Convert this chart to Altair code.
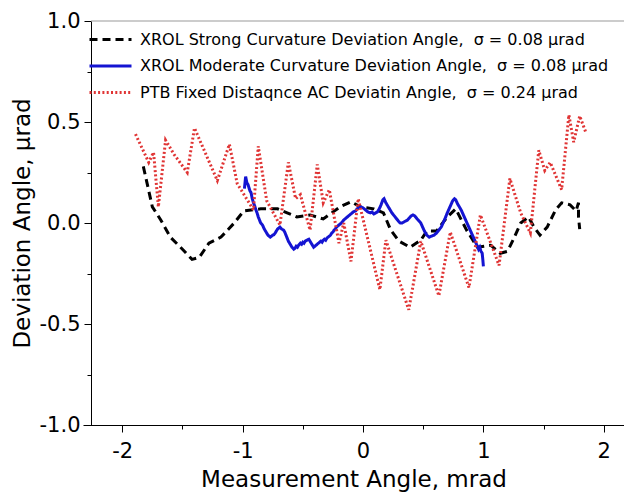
import altair as alt
import pandas as pd

series_names = [
    "XROL Strong Curvature Deviation Angle,\u00a0 σ = 0.08 μrad",
    "XROL Moderate Curvature Deviation Angle,\u00a0 σ = 0.08 μrad",
    "PTB Fixed Distaqnce AC Deviatin Angle,\u00a0 σ = 0.24 μrad",
]
series_colors = ["#000000", "#1414d2", "#e03434"]

strong_x = [-1.825, -1.75, -1.68, -1.60, -1.50, -1.42, -1.36, -1.28, -1.18, -1.07,
            -0.99, -0.85, -0.71, -0.63, -0.55, -0.44, -0.33, -0.19, -0.10, -0.02,
            0.09, 0.17, 0.23, 0.30, 0.39, 0.48, 0.53, 0.61, 0.70, 0.77,
            0.86, 0.95, 1.06, 1.14, 1.20, 1.25, 1.31, 1.375, 1.42, 1.47,
            1.53, 1.60, 1.65, 1.72, 1.77, 1.79, 1.79, 1.80]
strong_y = [0.28, 0.08, 0.015, -0.07, -0.13, -0.18, -0.17, -0.10, -0.07, 0.0,
            0.06, 0.07, 0.07, 0.05, 0.03, 0.04, 0.02, 0.08, 0.105, 0.08,
            0.07, 0.05, -0.035, -0.09, -0.12, -0.085, -0.04, -0.04, 0.03, 0.07,
            -0.035, -0.12, -0.11, -0.15, -0.14, -0.08, 0.0, 0.03, -0.02, -0.06,
            -0.02, 0.065, 0.10, 0.09, 0.06, 0.10, 0.03, -0.03]

moderate_x = [-0.985, -0.975, -0.965, -0.955, -0.94, -0.93, -0.92, -0.91, -0.90, -0.89,
              -0.88, -0.87, -0.86, -0.85, -0.835, -0.82, -0.805, -0.79, -0.78, -0.77,
              -0.76, -0.75, -0.74, -0.73, -0.72, -0.71, -0.70, -0.69, -0.675, -0.66,
              -0.65, -0.64, -0.63, -0.62, -0.61, -0.60, -0.59, -0.575, -0.565, -0.555,
              -0.545, -0.535, -0.52, -0.51, -0.50, -0.49, -0.48, -0.465, -0.45, -0.44,
              -0.43, -0.42, -0.41, -0.40, -0.39, -0.38, -0.37, -0.36, -0.35, -0.34,
              -0.33, -0.32, -0.31, -0.30, -0.29, -0.28, -0.27, -0.26, -0.25, -0.24,
              -0.23, -0.22, -0.20, -0.18, -0.16, -0.14, -0.12, -0.10, -0.08, -0.06,
              -0.05, -0.035, -0.02, 0.00, 0.02, 0.04, 0.06, 0.075, 0.09, 0.105,
              0.12, 0.135, 0.15, 0.165, 0.175, 0.19, 0.205, 0.22, 0.24, 0.26,
              0.28, 0.30, 0.31, 0.325, 0.34, 0.355, 0.37, 0.385, 0.40, 0.415,
              0.43, 0.45, 0.465, 0.48, 0.495, 0.51, 0.53, 0.55, 0.57, 0.59,
              0.61, 0.63, 0.65, 0.665, 0.68, 0.70, 0.715, 0.73, 0.745, 0.76,
              0.77, 0.785, 0.80, 0.815, 0.83, 0.845, 0.86, 0.875, 0.89, 0.905,
              0.92, 0.935, 0.95, 0.96, 0.97, 0.98, 0.99, 0.995, 1.00]
moderate_y = [0.17, 0.23, 0.20, 0.19, 0.16, 0.15, 0.12, 0.10, 0.085, 0.065,
              0.05, 0.03, 0.015, 0.0, -0.01, -0.03, -0.045, -0.06, -0.065, -0.07,
              -0.065, -0.06, -0.058, -0.05, -0.04, -0.03, -0.025, -0.02, -0.03, -0.035,
              -0.045, -0.06, -0.075, -0.09, -0.10, -0.11, -0.12, -0.13, -0.125, -0.115,
              -0.12, -0.11, -0.10, -0.105, -0.095, -0.10, -0.09, -0.085, -0.08, -0.09,
              -0.10, -0.11, -0.12, -0.115, -0.11, -0.105, -0.10, -0.095, -0.09, -0.095,
              -0.085, -0.08, -0.085, -0.075, -0.07, -0.065, -0.06, -0.05, -0.045, -0.035,
              -0.03, -0.02, -0.01, 0.0, 0.015, 0.025, 0.035, 0.045, 0.055, 0.06,
              0.07, 0.075, 0.08, 0.075, 0.065, 0.055, 0.05, 0.055, 0.045, 0.05,
              0.055, 0.07, 0.09, 0.115, 0.12, 0.10, 0.085, 0.07, 0.05, 0.035,
              0.02, 0.005, 0.0, 0.0, 0.005, 0.01, 0.015, 0.025, 0.035, 0.04,
              0.035, 0.02, 0.01, 0.0, -0.02, -0.04, -0.06, -0.07, -0.065, -0.06,
              -0.05, -0.035, -0.02, 0.0, 0.02, 0.05, 0.07, 0.09, 0.11, 0.12,
              0.115, 0.095, 0.08, 0.065, 0.045, 0.025, 0.005, -0.015, -0.035, -0.055,
              -0.075, -0.095, -0.115, -0.13, -0.12, -0.14, -0.15, -0.18, -0.215]

ptb_x = [-1.89, -1.78, -1.74, -1.70, -1.64, -1.57, -1.46, -1.40, -1.21, -1.11,
         -1.045, -0.91, -0.87, -0.80, -0.69, -0.62, -0.56, -0.52, -0.44, -0.38,
         -0.33, -0.28, -0.20, -0.16, -0.10, -0.04, 0.14, 0.19, 0.38, 0.48,
         0.63, 0.725, 0.88, 0.975, 1.13, 1.22, 1.31, 1.39, 1.46, 1.51,
         1.555, 1.65, 1.71, 1.75, 1.80, 1.85]
ptb_y = [0.44, 0.30, 0.35, 0.08, 0.41, 0.34, 0.25, 0.47, 0.21, 0.39,
         0.195, 0.065, 0.38, 0.11, -0.01, 0.30, 0.12, 0.14, -0.035, 0.29,
         0.10, 0.165, -0.10, 0.0, -0.19, 0.12, -0.33, -0.085, -0.43, -0.09,
         -0.36, -0.045, -0.32, 0.04, -0.21, 0.22, 0.05, -0.05, 0.36, 0.26,
         0.30, 0.165, 0.535, 0.40, 0.53, 0.45]

x_ticks = [-2, -1.5, -1, -0.5, 0, 0.5, 1, 1.5, 2]
y_ticks = [-1, -0.75, -0.5, -0.25, 0, 0.25, 0.5, 0.75, 1]

rows = []
for name, xs, ys in zip(series_names, [strong_x, moderate_x, ptb_x], [strong_y, moderate_y, ptb_y]):
    for i, (xv, yv) in enumerate(zip(xs, ys)):
        rows.append({"series": name, "x": xv, "y": yv, "idx": i})
df = pd.DataFrame(rows)

FONT = "DejaVu Sans"
x_scale = alt.Scale(domain=[-2.326, 2.168], nice=False, zero=False)
y_scale = alt.Scale(domain=[-1.0, 1.0], nice=False, zero=False)

x_major = "abs(datum.value - round(datum.value)) < 0.001"
y_major = "abs(datum.value * 2 - round(datum.value * 2)) < 0.001"

x_axis = alt.Axis(
    values=x_ticks, title="Measurement Angle, mrad", grid=False,
    labelExpr=x_major + " ? ('' + datum.value) : ''",
    tickSize={"condition": {"test": x_major, "value": 7}, "value": 4},
    domainColor="black", tickColor="black", tickWidth=1,
    labelFont=FONT, labelFontSize=21, labelColor="black", labelPadding=8,
    titleFont=FONT, titleFontSize=23, titleFontWeight="normal", titleColor="black",
    titlePadding=7,
)
y_axis = alt.Axis(
    values=y_ticks, title="Deviation Angle, μrad", grid=False, offset=-8,
    labelExpr=y_major + " ? replace(format(datum.value, '.1f'), '\u2212', '-') : ''",
    tickSize={"condition": {"test": y_major, "value": 7}, "value": 4},
    domainColor="black", tickColor="black", tickWidth=1,
    labelFont=FONT, labelFontSize=21, labelColor="black", labelPadding=4,
    titleFont=FONT, titleFontSize=23, titleFontWeight="normal", titleColor="black",
    titlePadding=5,
)

legend = alt.Legend(
    title=None, orient="none", legendX=27, legendY=7,
    symbolType="M-3.2,0H1", symbolSize=400, padding=0,
    labelFont=FONT, labelFontSize=16, labelColor="black", labelOffset=7,
    rowPadding=6.5, labelLimit=0,
)

border = alt.Chart(pd.DataFrame({"x": [-2.259], "x2": [2.168], "y": [1.0]})).mark_rule(
    color="#999999", strokeWidth=1
).encode(
    x=alt.X("x:Q", scale=x_scale, axis=x_axis),
    x2="x2:Q",
    y=alt.Y("y:Q", scale=y_scale, axis=y_axis),
)

lines = alt.Chart(df).mark_line().encode(
    x=alt.X("x:Q", scale=x_scale, axis=x_axis),
    y=alt.Y("y:Q", scale=y_scale, axis=y_axis),
    color=alt.Color("series:N", scale=alt.Scale(domain=series_names, range=series_colors), legend=legend),
    strokeDash=alt.StrokeDash("series:N", scale=alt.Scale(domain=series_names, range=[[8, 5], [1, 0], [2, 2.3]]), legend=legend),
    strokeWidth=alt.StrokeWidth("series:N", scale=alt.Scale(domain=series_names, range=[3, 3, 2.2]), legend=legend),
    order=alt.Order("idx:Q"),
)

chart = alt.layer(border, lines).properties(
    width=541, height=404,
    autosize=alt.AutoSizeParams(type="none"),
    padding={"left": 83, "top": 21, "right": 0, "bottom": 70},
    background="white",
).configure_view(strokeWidth=0)

chart.save("out.html", embed_options={"renderer": "svg", "actions": False})
